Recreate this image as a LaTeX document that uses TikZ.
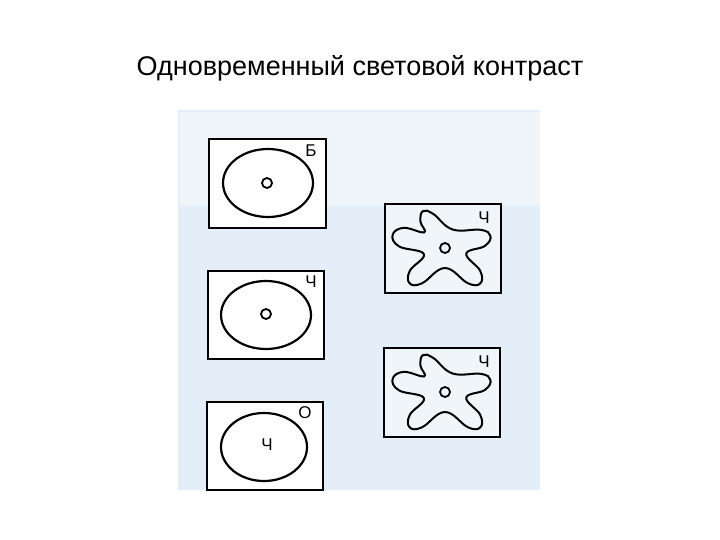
\documentclass[tikz,border=0pt]{standalone}
\usepackage{fontspec}
\setmainfont{Liberation Sans}
\definecolor{scan}{RGB}{228,238,248}
\definecolor{scanlight}{RGB}{240,245,250}
\begin{document}
\begin{tikzpicture}[x=1pt,y=-1pt,
  frame/.style={draw, line width=2.4pt},
  ring/.style={draw, line width=2.2pt},
  lbl/.style={font=\fontsize{17}{17}\selectfont, inner sep=0pt}]
\useasboundingbox (0,0) rectangle (720,540);
\fill[white] (0,0) rectangle (720,540);
\fill[scan] (178,110) rectangle (540,490);
\fill[scanlight] (180,112) rectangle (540,205);
\node[font=\fontsize{27}{27}\selectfont] (title) at (360,68) {Одновременный световой контраст};
% left column
\node[frame, minimum width=117pt, minimum height=89pt, inner sep=0pt, fill=white] (b1) at (267.5,183.5) {};
\draw[ring] (268,183) ellipse (45 and 34);
\draw[line width=1.8pt] (267,183) circle (5);
\node[lbl] (l1) at (311,151) {Б};
\node[frame, minimum width=116pt, minimum height=88pt, inner sep=0pt, fill=white] (b2) at (266,315) {};
\draw[ring] (266,315) ellipse (45 and 34);
\draw[line width=1.8pt] (266,314) circle (5);
\node[lbl] (l2) at (311,282) {Ч};
\node[frame, minimum width=116pt, minimum height=88pt, inner sep=0pt, fill=white] (b3) at (265,446) {};
\draw[ring] (264,447) ellipse (43 and 34);
\node[lbl] (l3) at (305,413) {О};
\node[lbl] (l4) at (267,445) {Ч};
% right column
\node[frame, minimum width=116pt, minimum height=89pt, inner sep=0pt, fill=scanlight] (b4) at (443,248.5) {};
\node[frame, minimum width=116pt, minimum height=89pt, inner sep=0pt, fill=scanlight] (b5) at (442,392.5) {};
\foreach \cx/\cy in {445/248, 445/392}{
  \begin{scope}[shift={(\cx,\cy)}, yscale=-1]
    \draw[ring, line width=2pt] plot[smooth cycle, tension=0.7] coordinates {
      (-57:42) (-45:50) (-33:42) (-15:22) (3:40) (15:47) (27:40) (68:20)
      (109:36) (121:43) (133:36) (143:26) (154:46) (166:54) (178:46) (196:22)
      (213:42) (225:50) (237:42) (270:20)};
    \draw[line width=1.8pt] (0,0) circle (5);
  \end{scope}}
\node[lbl] (l5) at (484,218) {Ч};
\node[lbl] (l6) at (484,362) {Ч};
\end{tikzpicture}
\end{document}
